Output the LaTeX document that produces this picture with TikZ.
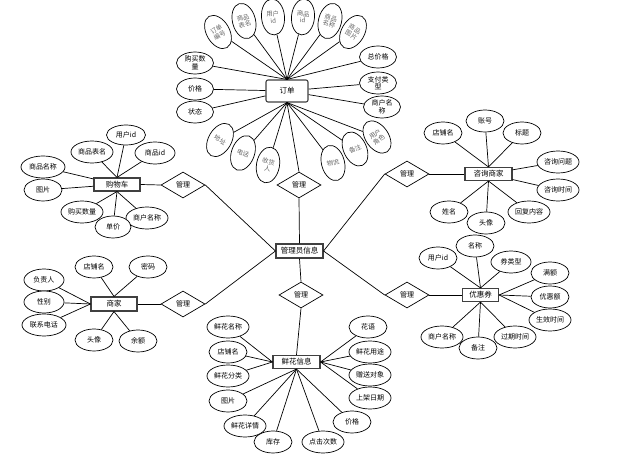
\documentclass[tikz,border=0pt]{standalone}
\usepackage{fontspec}
\setmainfont{Noto Sans CJK SC}
\usetikzlibrary{shapes.geometric}

\begin{document}
\begin{tikzpicture}[x=1pt,y=-1pt,line width=0.7pt,
    ent/.style={draw=black!75,line width=1.1pt,fill=white,minimum width=46pt,minimum height=13pt,inner sep=1pt,font=\fontsize{7.5}{8}\selectfont},
    att/.style={ellipse,draw,line width=0.7pt,fill=white,minimum width=40pt,minimum height=22pt,inner sep=0pt,align=center,font=\fontsize{7}{7.5}\selectfont},
    rot/.style={att,minimum width=23pt,minimum height=36pt,text=black!60,font=\fontsize{6.3}{6.8}\selectfont},
    rel/.style={diamond,draw,line width=0.7pt,fill=white,minimum width=44pt,minimum height=26pt,inner sep=0pt,font=\fontsize{7}{8}\selectfont}]
    \useasboundingbox (0,0) rectangle (641,462);

    % entities
    \node[ent,rounded corners=2pt,minimum width=42pt,minimum height=22pt] (ord) at (287,91) {订单};
    \node[ent,minimum width=47pt,minimum height=14pt] (adm) at (299.5,251) {管理员信息};
    \node[ent] (cart) at (117,184.5) {购物车};
    \node[ent,minimum width=47pt] (ask) at (488.5,174) {咨询商家};
    \node[ent,minimum height=14pt] (shop) at (114,304) {商家};
    \node[ent,minimum width=36pt] (cpn) at (480.5,295) {优惠券};
    \node[ent,minimum width=47pt] (flw) at (296.5,362) {鲜花信息};

    % relations
    \node[rel] (r1) at (299,185) {管理};
    \node[rel] (r2) at (301,295) {管理};
    \node[rel] (r3) at (407,174) {管理};
    \node[rel] (r4) at (407,295) {管理};
    \node[rel] (r5) at (183,185) {管理};
    \node[rel] (r6) at (183,304) {管理};

    \draw (ord.south) -- (r1.north);
    \draw (r1.south) -- (adm.north);
    \draw (adm.south) -- (r2.north);
    \draw (r2.south) -- (flw.north);
    \foreach \r in {r3,r4} \draw (adm.east) -- (\r.west);
    \foreach \r in {r5,r6} \draw (adm.west) -- (\r.east);
    \draw (r3.east) -- (ask.west);
    \draw (r4.east) -- (cpn.west);
    \draw (r5.west) -- (cart.east);
    \draw (r6.west) -- (shop.east);

    % order
    \node[rot,rotate=30] (o1) at (218,32) {订单\\编号};
    \node[rot,rotate=15] (o2) at (244,21) {商品\\表名};
    \node[rot,rotate=5] (o3) at (273,17) {用户\\id};
    \node[rot,rotate=-5] (o4) at (303,17) {商品\\id};
    \node[rot,rotate=-15] (o5) at (330,21) {商品\\名称};
    \node[rot,rotate=-30] (o6) at (353,32) {商品\\图片};
    \node[att,minimum width=37pt] (o7) at (195,63) {购买数\\量};
    \node[att,minimum width=37pt] (o8) at (195,89) {价格};
    \node[att,minimum width=37pt] (o9) at (195,112) {状态};
    \node[att,minimum width=37pt] (o10) at (378,57) {总价格};
    \node[att,minimum width=37pt] (o11) at (378,83) {支付类\\型};
    \node[att,minimum width=37pt] (o12) at (382,107) {商户名\\称};
    \node[rot,rotate=-30] (o13) at (220,140) {地址};
    \node[rot,rotate=-20] (o14) at (243,153) {电话};
    \node[rot,rotate=-10] (o15) at (268,165) {收货\\人};
    \node[rot,rotate=15] (o16) at (333,163) {物流};
    \node[rot,rotate=25] (o17) at (355,149) {备注};
    \node[rot,rotate=35] (o18) at (377,137) {用户\\角色};
    \foreach \a in {o1,o2,o3,o4,o5,o6,o7,o10} \draw (\a) -- (ord.north);
    \foreach \a in {o8,o9,o11,o12} \draw (\a) -- (ord);
    \foreach \a in {o13,o14,o15,o16,o17,o18} \draw (\a) -- (ord.south);

    % cart
    \node[att,minimum width=39pt,minimum height=20pt] (c1) at (126,135) {用户id};
    \node[att,minimum width=42pt] (c2) at (92,152) {商品表名};
    \node[att] (c3) at (155,153) {商品id};
    \node[att,minimum width=44pt] (c4) at (43,167) {商品名称};
    \node[att,minimum width=38pt] (c5) at (43,190) {图片};
    \node[att,minimum width=42pt] (c6) at (82,212) {购买数量};
    \node[att,minimum width=42pt] (c8) at (147,218) {商户名称};
    \node[att,minimum width=36pt] (c7) at (113,227) {单价};
    \foreach \a in {c1,c2,c3} \draw (\a) -- (cart.north);
    \foreach \a in {c4,c5} \draw (\a) -- (cart);
    \foreach \a in {c6,c7,c8} \draw (\a) -- (cart.south);

    % consult
    \node[att,minimum width=38pt] (q1) at (443,133) {店铺名};
    \node[att,minimum width=38pt] (q2) at (485,121) {账号};
    \node[att,minimum width=38pt] (q3) at (522,133) {标题};
    \node[att,minimum width=42pt] (q4) at (558,162) {咨询问题};
    \node[att,minimum width=42pt] (q5) at (558,190) {咨询时间};
    \node[att,minimum width=42pt] (q6) at (529,212) {回复内容};
    \node[att,minimum width=38pt] (q8) at (449,212) {姓名};
    \node[att,minimum width=38pt] (q7) at (486,223) {头像};
    \foreach \a in {q1,q2,q3} \draw (\a) -- (ask.north);
    \foreach \a in {q4,q5} \draw (\a) -- (ask);
    \foreach \a in {q6,q7,q8} \draw (\a) -- (ask.south);

    % shop
    \node[att,minimum width=38pt] (s1) at (94,267) {店铺名};
    \node[att,minimum width=38pt] (s2) at (148,267) {密码};
    \node[att] (s3) at (44,280) {负责人};
    \node[att] (s4) at (44,302) {性别};
    \node[att,minimum width=44pt] (s5) at (44,325) {联系电话};
    \node[att,minimum width=38pt] (s6) at (94,340) {头像};
    \node[att,minimum width=38pt] (s7) at (138,341) {余额};
    \foreach \a in {s1,s2} \draw (\a) -- (shop.north);
    \foreach \a in {s3,s4,s5} \draw (\a) -- (shop.west);
    \foreach \a in {s6,s7} \draw (\a) -- (shop.south);

    % coupon
    \node[att,minimum width=38pt] (k1) at (438,258) {用户id};
    \node[att,minimum width=38pt] (k2) at (475,246) {名称};
    \node[att] (k3) at (511,262) {券类型};
    \node[att,minimum width=38pt] (k4) at (550,273) {满额};
    \node[att,minimum width=38pt] (k5) at (550,297) {优惠额};
    \node[att,minimum width=42pt] (k6) at (550,320) {生效时间};
    \node[att,minimum width=42pt] (k7) at (515,337) {过期时间};
    \node[att,minimum width=42pt] (k9) at (442,337) {商户名称};
    \node[att,minimum width=38pt] (k8) at (478,348) {备注};
    \foreach \a in {k1,k2,k3} \draw (\a) -- (cpn.north);
    \foreach \a in {k4,k5,k6} \draw (\a) -- (cpn.east);
    \foreach \a in {k7,k8,k9} \draw (\a) -- (cpn.south);

    % flower
    \node[att,minimum width=42pt] (f1) at (228,327) {鲜花名称};
    \node[att,minimum width=38pt] (f2) at (228,352) {店铺名};
    \node[att,minimum width=42pt] (f3) at (228,376) {鲜花分类};
    \node[att,minimum width=38pt] (f4) at (228,401) {图片};
    \node[att,minimum width=42pt] (f5) at (245,426) {鲜花详情};
    \node[att,minimum width=38pt] (f6) at (273,442) {库存};
    \node[att,minimum width=42pt] (f7) at (323,442) {点击次数};
    \node[att,minimum width=38pt] (f8) at (352,422) {价格};
    \node[att,minimum width=42pt] (f9) at (370,398) {上架日期};
    \node[att,minimum width=42pt] (f10) at (370,375) {赠送对象};
    \node[att,minimum width=42pt] (f11) at (370,352) {鲜花用途};
    \node[att,minimum width=38pt] (f12) at (368,327) {花语};
    \foreach \a in {f1,f2,f3} \draw (\a) -- (flw.west);
    \foreach \a in {f4,f5,f6,f7,f8} \draw (\a) -- (flw.south);
    \foreach \a in {f9,f10,f11,f12} \draw (\a) -- (flw.east);
\end{tikzpicture}
\end{document}
